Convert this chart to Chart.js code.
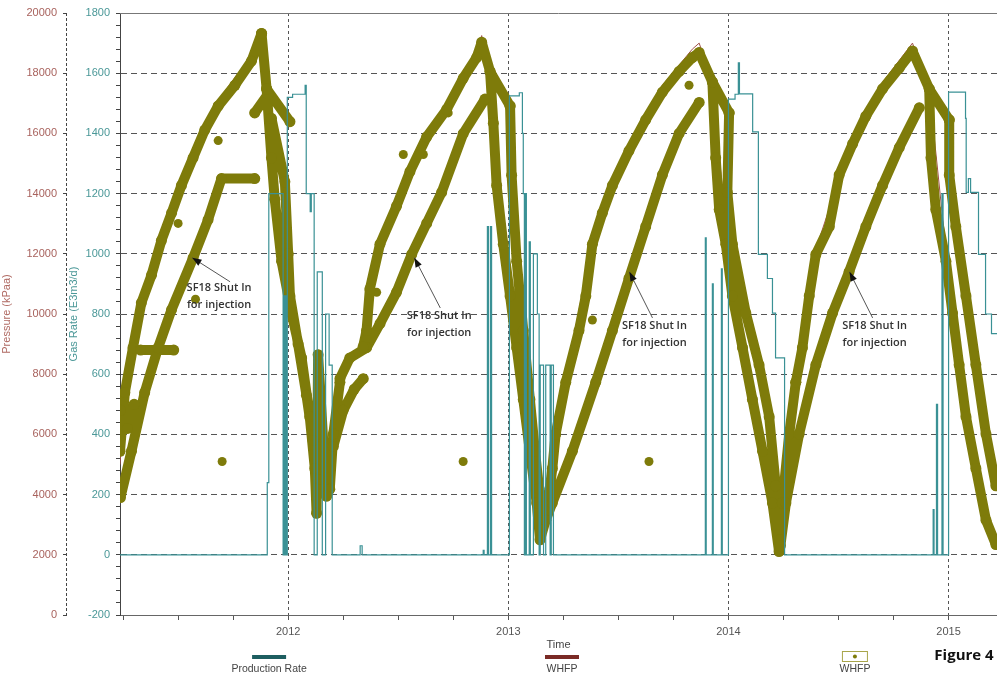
<!DOCTYPE html>
<html>
<head>
<meta charset="utf-8">
<script src="https://cdn.jsdelivr.net/npm/chart.js@4.4.1/dist/chart.umd.min.js"></script>
<style>
  html, body { margin: 0; padding: 0; background: #fff; }
  #wrap { width: 997px; height: 679px; }
</style>
</head>
<body>
<div id="wrap"><canvas id="chart" width="997" height="679"></canvas></div>
<script>
// WHFP dots (decimal year, kPa); null separates the branches of the scatter cloud
const whfpTime = [
  2011.236, 2011.258, 2011.295, 2011.333, 2011.379, 2011.424, 2011.470, 2011.515, 2011.568, 2011.621, 2011.682, 2011.758, 2011.833, 2011.879, null,
  2011.238, 2011.288, 2011.348, 2011.409, 2011.470, 2011.568, 2011.636, 2011.697, 2011.848, null,
  2011.330, 2011.480, null,
  2011.238, 2011.270, 2011.300, null,
  2011.879, 2011.902, 2012.008, null,
  2011.848, 2011.909, null,
  2011.902, 2011.924, 2011.939, 2011.970, 2012.015, 2012.061, 2012.098, 2012.121, 2012.129, 2012.136, 2012.174, 2012.189, 2012.205, 2012.235, null,
  2011.924, 2011.985, 2012.000, 2012.008, 2012.045, 2012.083, 2012.113, 2012.143, 2012.174, null,
  2012.235, 2012.280, 2012.356, 2012.417, 2012.492, 2012.561, 2012.629, 2012.697, 2012.795, 2012.894, null,
  2012.340, 2012.356, 2012.371, 2012.417, 2012.492, 2012.553, 2012.629, 2012.720, 2012.795, 2012.856, 2012.879, 2012.917, 2013.008, null,
  2012.205, 2012.250, 2012.300, 2012.341, null,
  2012.917, 2012.932, 2012.947, 2012.977, 2013.008, 2013.038, 2013.068, 2013.098, 2013.129, 2013.144, 2013.170, 2013.200, 2013.215, null,
  2013.008, 2013.015, 2013.038, 2013.068, 2013.098, 2013.121, 2013.140, 2013.160, null,
  2013.215, 2013.261, 2013.321, 2013.352, 2013.382, 2013.427, 2013.473, 2013.548, 2013.624, 2013.700, 2013.776, 2013.836, 2013.867, 2013.927, 2014.003, null,
  2013.170, 2013.200, 2013.291, 2013.397, 2013.473, 2013.548, 2013.624, 2013.700, 2013.776, 2013.867, null,
  2013.927, 2013.942, 2013.958, 2013.988, 2014.018, 2014.064, 2014.109, 2014.155, 2014.200, 2014.230, 2014.245, 2014.276, 2014.306, null,
  2014.003, 2013.995, 2014.018, 2014.079, 2014.139, 2014.185, 2014.215, 2014.235, null,
  2014.306, 2014.336, 2014.367, 2014.397, 2014.458, 2014.503, 2014.564, 2014.624, 2014.700, 2014.776, 2014.836, 2014.912, 2015.003, null,
  2014.236, 2014.261, 2014.321, 2014.397, 2014.473, 2014.548, 2014.624, 2014.700, 2014.776, 2014.867, null,
  2014.912, 2014.920, 2014.942, 2014.988, 2015.018, 2015.048, 2015.079, 2015.124, 2015.170, 2015.215, null,
  2015.003, 2015.003, 2015.033, 2015.079, 2015.124, 2015.170, 2015.215
];
const whfpKpa = [
  5440, 7390, 8880, 10370, 11290, 12440, 13350, 14270, 15190, 16110, 16910, 17600, 18400, 19320, null,
  3900, 5440, 7390, 8880, 10140, 11860, 13130, 14500, 14500, null,
  8800, 8800, null,
  6800, 6200, 7000, null,
  19320, 17480, 16390, null,
  16680, 17310, null,
  17480, 15190, 13810, 11750, 10030, 8540, 6590, 4870, 3380, 8650, 3950, 4180, 6010, 7730, null,
  16500, 14390, 12000, 10600, 9000, 7300, 5800, 4500, 3950, null,
  7850, 8540, 8880, 9680, 10720, 11980, 13010, 14040, 15990, 17140, null,
  8900, 9450, 10830, 12320, 13580, 14730, 15880, 16800, 17830, 18520, 19030, 18060, 16910, null,
  5600, 6800, 7500, 7850, null,
  18060, 16340, 14270, 12320, 10600, 8880, 7160, 5440, 3720, 2500, 3150, 4870, 6010, null,
  16910, 14610, 11750, 9450, 7160, 5440, 4200, 3200, null,
  6010, 7730, 9450, 10600, 12320, 13350, 14270, 15420, 16450, 17370, 18060, 18520, 18690, 17710, 16680, null,
  3150, 3720, 5440, 7730, 9450, 11180, 12900, 14620, 16000, 17030, null,
  17710, 15190, 13470, 12320, 10600, 8880, 7160, 5440, 3720, 2110, 3720, 6010, 7730, null,
  16680, 14040, 12320, 10030, 8310, 6590, 4290, 2500, null,
  7730, 8880, 10600, 11980, 12900, 14620, 15650, 16570, 17480, 18170, 18740, 17480, 16450, null,
  2300, 3720, 6010, 8310, 10030, 11400, 12900, 14270, 15530, 16850, null,
  17480, 15190, 13470, 11750, 10030, 8310, 6590, 4870, 3150, 2340, null,
  16450, 14620, 12900, 10600, 8310, 6010, 4290
];

// isolated WHFP dots
const strayTime = [2011.579, 2011.700, 2011.682, 2011.500, 2012.795, 2012.523, 2012.614, 2012.727, 2012.402, 2013.639, 2013.382, 2013.821];
const strayKpa = [10490, 5100, 15760, 13010, 5100, 15300, 15300, 16680, 10720, 5100, 9800, 17600];

// WHFP line (thin, mostly behind the dots)
const lineTime = [2011.236, 2011.260, 2011.333, 2011.470, 2011.568, 2011.682, 2011.833, 2011.879, 2011.902, 2011.970, 2012.061, 2012.129, 2012.136, 2012.174, 2012.235, 2012.356, 2012.417, 2012.553, 2012.720, 2012.856, 2012.879, 2012.917, 2012.977, 2013.068, 2013.144, 2013.215, 2013.382, 2013.548, 2013.700, 2013.836, 2013.867, 2013.927, 2014.018, 2014.155, 2014.230, 2014.306, 2014.397, 2014.564, 2014.700, 2014.836, 2014.912, 2015.018, 2015.124, 2015.215];
const lineKpa = [5000, 7600, 10550, 13550, 15400, 17100, 18600, 19500, 17480, 11750, 8540, 3300, 8650, 3900, 7900, 9000, 12450, 14900, 17000, 18750, 19250, 18060, 12320, 7160, 2500, 6100, 12450, 15600, 17600, 18800, 19000, 17710, 10600, 5440, 2000, 7800, 12150, 15850, 17700, 19000, 17480, 10030, 4870, 2250];

// Production rate (E3m3/d), value held until next time
const rateTime = [2011.236, 2011.905, 2011.912, 2011.977, 2011.980, 2011.984, 2011.988, 2011.992, 2011.996, 2012.020, 2012.077, 2012.082, 2012.100, 2012.105, 2012.118, 2012.132, 2012.155, 2012.170, 2012.186, 2012.200, 2012.327, 2012.336, 2012.886, 2012.890, 2012.905, 2012.910, 2012.919, 2012.924, 2013.005, 2013.050, 2013.064, 2013.068, 2013.073, 2013.077, 2013.082, 2013.095, 2013.100, 2013.114, 2013.132, 2013.140, 2013.145, 2013.160, 2013.170, 2013.190, 2013.195, 2013.205, 2013.895, 2013.899, 2013.927, 2013.931, 2013.968, 2013.972, 2014.000, 2014.030, 2014.045, 2014.050, 2014.110, 2014.136, 2014.177, 2014.200, 2014.214, 2014.255, 2014.930, 2014.934, 2014.945, 2014.950, 2014.970, 2014.975, 2015.000, 2015.077, 2015.080, 2015.090, 2015.100, 2015.136, 2015.168, 2015.195, 2015.220];
const rateGas = [0, 240, 1200, 0, 860, 0, 860, 0, 1520, 1530, 1560, 1200, 1140, 1200, 0, 940, 0, 800, 630, 0, 30, 0, 15, 0, 1090, 0, 1090, 0, 1525, 1535, 1400, 1200, 0, 1200, 0, 1040, 0, 1000, 800, 0, 630, 0, 630, 0, 630, 0, 1053, 0, 900, 0, 950, 0, 1514, 1530, 1634, 1531, 1405, 998, 918, 803, 654, 0, 150, 0, 500, 0, 1200, 0, 1537, 1450, 1204, 1250, 1204, 998, 800, 735, 735];

// "SF18 Shut In for injection" notes: text centre and arrow, in data units
const noteTime = [2011.686, 2012.686, 2013.664, 2014.664];
const noteKpa = [10600, 9670, 9330, 9330];
const arrowTailTime = [2011.736, 2012.691, 2013.655, 2014.655];
const arrowTailKpa = [11070, 10200, 9870, 9870];
const arrowTipTime = [2011.564, 2012.573, 2013.550, 2014.550];
const arrowTipKpa = [11870, 11870, 11400, 11400];

const OLIVE = "#7e7b0a";
const TEAL = "#3a9195";

const pairs = (ts, vs) => {
  let last = ts.find((t) => t !== null);
  return ts.map((t, i) => {
    if (t === null) return { x: last, y: null };
    last = t;
    return { x: t, y: vs[i] };
  });
};

const overlay = {
  id: "overlay",
  beforeDatasetsDraw(chart) {
    const { ctx, chartArea: a, scales } = chart;
    ctx.save();
    ctx.strokeStyle = "#777";
    ctx.lineWidth = 1;
    ctx.beginPath();
    ctx.moveTo(a.left, a.top + 0.5);
    ctx.lineTo(a.right, a.top + 0.5);
    ctx.stroke();
    const p = scales.yP;
    ctx.strokeStyle = "#444";
    ctx.setLineDash([3, 2]);
    ctx.beginPath();
    ctx.moveTo(p.right - 0.5, a.top);
    ctx.lineTo(p.right - 0.5, a.bottom);
    ctx.stroke();
    ctx.restore();
  },
  afterDraw(chart) {
    const { ctx, chartArea: a, scales } = chart;
    const x = scales.x;
    const p = scales.yP;
    ctx.save();

    // notes with arrows
    noteTime.forEach((t, i) => {
      const tx = x.getPixelForValue(arrowTailTime[i]);
      const ty = p.getPixelForValue(arrowTailKpa[i]);
      const hx = x.getPixelForValue(arrowTipTime[i]);
      const hy = p.getPixelForValue(arrowTipKpa[i]);
      ctx.strokeStyle = "#555";
      ctx.lineWidth = 1;
      ctx.beginPath();
      ctx.moveTo(tx, ty);
      ctx.lineTo(hx, hy);
      ctx.stroke();
      const ang = Math.atan2(hy - ty, hx - tx);
      ctx.fillStyle = "#111";
      ctx.beginPath();
      ctx.moveTo(hx, hy);
      ctx.lineTo(hx - 10 * Math.cos(ang - 0.35), hy - 10 * Math.sin(ang - 0.35));
      ctx.lineTo(hx - 10 * Math.cos(ang + 0.35), hy - 10 * Math.sin(ang + 0.35));
      ctx.closePath();
      ctx.fill();

      const cx = x.getPixelForValue(t);
      const cy = p.getPixelForValue(noteKpa[i]);
      ctx.fillStyle = "#333";
      ctx.font = '600 11px "Open Sans", sans-serif';
      ctx.textAlign = "center";
      ctx.textBaseline = "middle";
      ctx.fillText("SF18 Shut In", cx, cy - 8);
      ctx.fillText("for injection", cx, cy + 9);
    });

    // axis title and legend below the plot
    const mid = (a.left + a.right) / 2;
    ctx.font = '11px "Liberation Sans", Arial, sans-serif';
    ctx.fillStyle = "#444";
    ctx.textAlign = "center";
    ctx.textBaseline = "middle";
    ctx.fillText("Time", mid, 645);

    const w = a.right - a.left;
    const legX = [a.left + w * 0.17, a.left + w * 0.504, a.left + w * 0.838];
    const legText = ["Production Rate", "WHFP", "WHFP"];
    ctx.fillStyle = "#1d5e60";
    ctx.fillRect(legX[0] - 17, 655, 34, 4);
    ctx.fillStyle = "#7a2a25";
    ctx.fillRect(legX[1] - 17, 655, 34, 4);
    ctx.strokeStyle = "#a8a54a";
    ctx.lineWidth = 1;
    ctx.strokeRect(legX[2] - 12.5, 651.5, 25, 10);
    ctx.fillStyle = OLIVE;
    ctx.beginPath();
    ctx.arc(legX[2], 656.5, 2, 0, Math.PI * 2);
    ctx.fill();
    ctx.fillStyle = "#444";
    ctx.font = '10.5px "Liberation Sans", Arial, sans-serif';
    legText.forEach((s, i) => ctx.fillText(s, legX[i], 669));

    ctx.fillStyle = "#111";
    ctx.font = 'bold 15px "Open Sans", sans-serif';
    ctx.fillText("Figure 4", 964, 656);
    ctx.restore();
  },
};

Chart.defaults.font.family = '"Liberation Sans", Arial, sans-serif';
Chart.defaults.font.size = 11;

new Chart(document.getElementById("chart"), {
  type: "line",
  data: {
    datasets: [
      {
        label: "Production Rate",
        data: pairs(rateTime, rateGas),
        yAxisID: "yG",
        borderColor: TEAL,
        borderWidth: 1.2,
        stepped: true,
        pointRadius: 0,
        clip: 0,
        order: 0,
      },
      {
        label: "WHFP dots",
        data: pairs(whfpTime, whfpKpa),
        yAxisID: "yP",
        borderColor: OLIVE,
        borderWidth: 10,
        borderCapStyle: "round",
        borderJoinStyle: "round",
        pointRadius: 5.5,
        pointBorderWidth: 0,
        pointBackgroundColor: OLIVE,
        spanGaps: false,
        clip: 0,
        order: 1,
      },
      {
        label: "WHFP stray",
        data: pairs(strayTime, strayKpa),
        yAxisID: "yP",
        showLine: false,
        pointRadius: 4.5,
        pointBorderWidth: 0,
        pointBackgroundColor: OLIVE,
        clip: 0,
        order: 1,
      },
      {
        label: "WHFP",
        data: pairs(lineTime, lineKpa),
        yAxisID: "yP",
        borderColor: "#a0504a",
        borderWidth: 1,
        pointRadius: 0,
        clip: 0,
        order: 2,
      },
    ],
  },
  options: {
    responsive: false,
    animation: false,
    devicePixelRatio: 1,
    layout: { autoPadding: false, padding: { top: 13, right: 0, left: 0, bottom: 0 } },
    plugins: { legend: { display: false }, tooltip: { enabled: false } },
    scales: {
      x: {
        type: "linear",
        min: 2011.236,
        max: 2015.22,
        afterFit: (s) => {
          s.height = 64;
          s.paddingLeft = 0;
          s.paddingRight = 0;
        },
        ticks: {
          stepSize: 0.25,
          includeBounds: false,
          autoSkip: false,
          maxRotation: 0,
          padding: 5,
          color: "#555",
          callback: (v) => (Number.isInteger(v) ? String(v) : ""),
        },
        grid: {
          color: (c) => (c.tick && Number.isInteger(c.tick.value) ? "#555" : "rgba(0,0,0,0)"),
          tickColor: "#555",
          tickLength: 5,
        },
        border: { color: "#666", dash: [3, 3] },
      },
      yP: {
        type: "linear",
        position: "left",
        weight: 1,
        min: 0,
        max: 20000,
        afterFit: (s) => { s.width = 67; },
        ticks: { stepSize: 2000, color: "#a8625d", padding: 6, autoSkip: false, callback: (v) => String(v) },
        grid: { drawOnChartArea: false, tickColor: "#444", tickLength: 4 },
        border: { display: false },
        title: { display: true, text: "Pressure (kPaa)", color: "#b06a63", font: { size: 11 }, padding: 0 },
      },
      yG: {
        type: "linear",
        position: "left",
        weight: 0,
        min: -200,
        max: 1800,
        afterFit: (s) => { s.width = 53; },
        ticks: {
          stepSize: 40,
          color: "#4b9898",
          padding: 6,
          autoSkip: false,
          callback: (v) => (v % 200 === 0 ? String(v) : ""),
        },
        grid: {
          color: (c) => (c.tick && c.tick.value % 200 === 0 ? "#555" : "rgba(0,0,0,0)"),
          tickColor: "#444",
          tickLength: 4,
        },
        border: { color: "#444", dash: [6, 4] },
        title: { display: true, text: "Gas Rate (E3m3/d)", color: "#4b9898", font: { size: 11 }, padding: 0 },
      },
    },
  },
  plugins: [overlay],
});
</script>
</body>
</html>
